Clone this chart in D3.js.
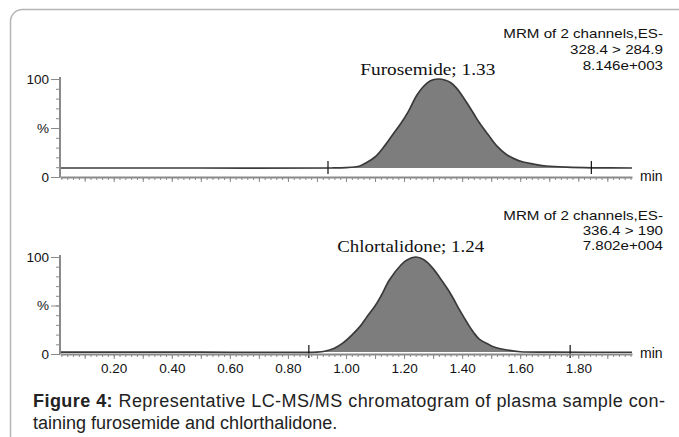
<!DOCTYPE html>
<html>
<head>
<meta charset="utf-8">
<script src="https://cdn.jsdelivr.net/npm/d3@7"></script>
<style>
  body { margin: 0; background: #fff; }
  svg { display: block; }
  .axis path, .axis line { stroke: #8a8a8a; }
  .axis text { fill: #111; font-family: "Liberation Sans", Arial, sans-serif; font-size: 13.5px; }
</style>
</head>
<body>
<div id="chart"></div>
<script>
// chromatogram values (time in min, intensity in %)
const furoTime = [0.015, 0.50, 0.95, 1.00, 1.03, 1.05, 1.07, 1.10, 1.13, 1.16, 1.19, 1.215, 1.245, 1.28, 1.30, 1.32, 1.34, 1.36, 1.38, 1.40, 1.42, 1.44, 1.46, 1.49, 1.52, 1.55, 1.58, 1.61, 1.65, 1.69, 1.76, 1.85, 1.985];
const furoInt  = [9.2, 9.2, 9.2, 9.5, 10.2, 11.5, 14.5, 20.4, 30.6, 42.9, 55.1, 67.0, 84.0, 96.0, 99.2, 100, 99.0, 96.5, 91.0, 83.0, 74.0, 64.5, 55.0, 43.0, 31.5, 23.5, 18.5, 15.3, 13.0, 11.2, 10.0, 9.4, 9.2];

const chloTime = [0.015, 0.50, 0.90, 0.93, 0.96, 0.99, 1.02, 1.05, 1.07, 1.10, 1.12, 1.15, 1.19, 1.21, 1.24, 1.26, 1.28, 1.30, 1.32, 1.35, 1.37, 1.39, 1.42, 1.44, 1.46, 1.49, 1.51, 1.555, 1.60, 1.70, 1.985];
const chloInt  = [2.0, 2.0, 2.0, 3.1, 6.0, 11.5, 19.5, 29.0, 37.5, 49.5, 59.5, 76.5, 92.0, 97.0, 100, 98.5, 94.5, 88.0, 80.0, 67.0, 57.0, 46.0, 31.0, 22.0, 15.0, 10.0, 7.2, 4.1, 2.3, 1.9, 1.8];

// integration markers (min)
const furoMarks = [0.938, 1.845];
const chloMarks = [0.872, 1.772];

const peakLabels = ["Furosemide; 1.33", "Chlortalidone; 1.24"];
const peakTimes = [1.33, 1.24];
const headerLines = [
  ["MRM of 2 channels,ES-", "328.4 > 284.9", "8.146e+003"],
  ["MRM of 2 channels,ES-", "336.4 > 190", "7.802e+004"]
];
const xTickLabels = ["0.20", "0.40", "0.60", "0.80", "1.00", "1.20", "1.40", "1.60", "1.80"];
const yTickValues = [0, 50, 100];
const yTickLabels = ["0", "%", "100"];

const width = 679, height = 437;

const svg = d3.select("#chart").append("svg")
  .attr("width", width)
  .attr("height", height);

// outer frame of the figure
svg.append("rect")
  .attr("x", 10.5).attr("y", 9.5)
  .attr("width", 720).attr("height", 470)
  .attr("rx", 12)
  .attr("fill", "#fff")
  .attr("stroke", "#b5b5b5")
  .attr("stroke-width", 1.5);

const x = d3.scaleLinear().domain([0.015, 1.985]).range([60, 632]);

const panels = [
  {time: furoTime, inten: furoInt, marks: furoMarks, top: 79, bottom: 177, header: 37.5, lineGap: 16.2, labelY: 75, labelW: 135, labelDx: -14},
  {time: chloTime, inten: chloInt, marks: chloMarks, top: 257, bottom: 354, header: 219.5, lineGap: 15.2, labelY: 252, labelW: 147, labelDx: -5}
];

panels.forEach(function(p, k) {
  const y = d3.scaleLinear().domain([0, 100]).range([p.bottom, p.top]);
  const g = svg.append("g");
  const pts = p.time.map(function(t, i) { return [t, p.inten[i]]; });
  const base = p.inten[0];

  // peak fill
  g.append("path")
    .datum(pts)
    .attr("fill", "#7d7d7d")
    .attr("d", d3.area()
      .x(function(d) { return x(d[0]); })
      .y0(y(base))
      .y1(function(d) { return Math.min(y(d[1]), y(base)); })
      .curve(d3.curveCatmullRom.alpha(0.5)));

  // trace
  g.append("path")
    .datum(pts)
    .attr("fill", "none")
    .attr("stroke", "#3a3a3a")
    .attr("stroke-width", 1.7)
    .attr("d", d3.line()
      .x(function(d) { return x(d[0]); })
      .y(function(d) { return y(d[1]); })
      .curve(d3.curveCatmullRom.alpha(0.5)));

  // integration markers
  g.selectAll("line.mark")
    .data(p.marks)
    .enter().append("line")
    .attr("class", "mark")
    .attr("x1", function(d) { return x(d); })
    .attr("x2", function(d) { return x(d); })
    .attr("y1", y(base) - 7)
    .attr("y2", y(base) + 6)
    .attr("stroke", "#111")
    .attr("stroke-width", 1.2);

  // x axis: minor ticks
  g.append("g")
    .attr("class", "axis")
    .attr("transform", "translate(0," + p.bottom + ")")
    .call(d3.axisBottom(x)
      .tickValues(d3.range(0.02, 1.985, 0.02))
      .tickSize(3)
      .tickSizeOuter(0)
      .tickFormat(""))
    .call(function(a) { a.select(".domain").attr("stroke-width", 2); });

  // x axis: major ticks (labels only on the lower panel)
  g.append("g")
    .attr("class", "axis")
    .attr("transform", "translate(0," + p.bottom + ")")
    .call(d3.axisBottom(x)
      .tickValues(d3.range(0.1, 1.95, 0.1))
      .tickSize(5)
      .tickSizeOuter(0)
      .tickFormat(function(d) {
        const s = d3.format(".2f")(d);
        return (k === 1 && xTickLabels.indexOf(s) >= 0) ? s : "";
      }))
    .call(function(a) {
      a.select(".domain").remove();
      a.selectAll("text").attr("dy", "0.9em").attr("y", 7);
    });

  // y axis
  g.append("g")
    .attr("class", "axis")
    .attr("transform", "translate(60,0)")
    .call(d3.axisLeft(y)
      .tickValues(d3.range(10, 100, 10))
      .tickSize(4)
      .tickSizeOuter(0)
      .tickFormat(""))
    .call(function(a) { a.select(".domain").attr("stroke-width", 2).attr("d", "M0," + (p.top - 2) + "V" + p.bottom); });

  g.append("g")
    .attr("class", "axis")
    .attr("transform", "translate(60,0)")
    .call(d3.axisLeft(y)
      .tickValues(yTickValues)
      .tickSize(9)
      .tickSizeOuter(0)
      .tickFormat(function(d, i) { return yTickLabels[i]; }))
    .call(function(a) {
      a.select(".domain").remove();
      a.selectAll("text").attr("x", -11);
    });

  // "min" unit label
  g.append("text")
    .attr("x", 640)
    .attr("y", p.bottom + 4)
    .attr("font-family", "Liberation Sans, Arial, sans-serif")
    .attr("font-size", 14)
    .attr("fill", "#111")
    .text("min");

  // channel header (top right), a bit wider than Arial like the original
  g.selectAll("text.hdr")
    .data(headerLines[k])
    .enter().append("text")
    .attr("class", "hdr")
    .attr("x", 663)
    .attr("y", function(d, i) { return p.header + i * p.lineGap; })
    .attr("text-anchor", "end")
    .attr("font-family", "Liberation Sans, Arial, sans-serif")
    .attr("font-size", 13.5)
    .attr("fill", "#111")
    .text(function(d) { return d; })
    .each(function() {
      const w = this.getComputedTextLength();
      d3.select(this).attr("textLength", w * 1.12).attr("lengthAdjust", "spacingAndGlyphs");
    });

  // peak label
  g.append("text")
    .attr("x", x(peakTimes[k]) + p.labelDx)
    .attr("y", p.labelY)
    .attr("text-anchor", "middle")
    .attr("font-family", "Liberation Serif, 'Times New Roman', serif")
    .attr("font-size", 17)
    .attr("fill", "#111")
    .attr("textLength", p.labelW)
    .attr("lengthAdjust", "spacingAndGlyphs")
    .text(peakLabels[k]);
});

// caption
const cap = svg.append("g")
  .attr("font-family", "Liberation Sans, Arial, sans-serif")
  .attr("font-size", 18)
  .attr("fill", "#222");

const line1 = cap.append("text")
  .attr("x", 33).attr("y", 407)
  .attr("textLength", 632)
  .attr("lengthAdjust", "spacing");
line1.append("tspan").attr("font-weight", "bold").text("Figure 4:");
line1.append("tspan").text(" Representative LC-MS/MS chromatogram of plasma sample con-");

cap.append("text")
  .attr("x", 33).attr("y", 429)
  .text("taining furosemide and chlorthalidone.");
</script>
</body>
</html>
